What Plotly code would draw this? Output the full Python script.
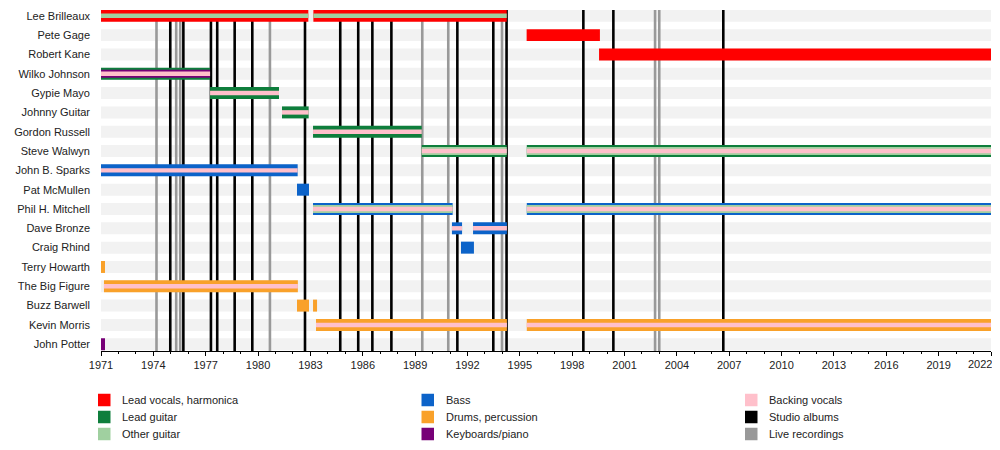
import plotly.graph_objects as go

# band members, top to bottom
members = ["Lee Brilleaux", "Pete Gage", "Robert Kane", "Wilko Johnson", "Gypie Mayo",
           "Johnny Guitar", "Gordon Russell", "Steve Walwyn", "John B. Sparks", "Pat McMullen",
           "Phil H. Mitchell", "Dave Bronze", "Craig Rhind", "Terry Howarth", "The Big Figure",
           "Buzz Barwell", "Kevin Morris", "John Potter"]

# (member, start, end) per role
lead_vocals = [("Lee Brilleaux", 1971.0, 1982.88), ("Lee Brilleaux", 1983.17, 1994.25),
               ("Pete Gage", 1995.39, 1999.59), ("Robert Kane", 1999.54, 2022.0)]
lead_guitar = [("Wilko Johnson", 1971.0, 1977.25), ("Gypie Mayo", 1977.25, 1981.2),
               ("Johnny Guitar", 1981.37, 1982.9), ("Gordon Russell", 1983.15, 1989.38),
               ("Steve Walwyn", 1989.38, 1994.25), ("Steve Walwyn", 1995.4, 2022.0)]
other_guitar_inner = [("Lee Brilleaux", 1971.0, 1982.88), ("Lee Brilleaux", 1983.17, 1994.25)]
other_guitar_mid = [("Steve Walwyn", 1989.38, 1994.25), ("Steve Walwyn", 1995.4, 2022.0),
                    ("Phil H. Mitchell", 1983.15, 1991.15), ("Phil H. Mitchell", 1995.4, 2022.0)]
bass = [("John B. Sparks", 1971.0, 1982.27), ("Pat McMullen", 1982.23, 1982.92),
        ("Phil H. Mitchell", 1983.15, 1991.15), ("Phil H. Mitchell", 1995.4, 2022.0),
        ("Dave Bronze", 1991.11, 1991.69), ("Dave Bronze", 1992.32, 1994.26),
        ("Craig Rhind", 1991.63, 1992.37)]
drums = [("Terry Howarth", 1971.0, 1971.23), ("The Big Figure", 1971.17, 1982.28),
         ("Buzz Barwell", 1982.23, 1982.92), ("Buzz Barwell", 1983.15, 1983.38),
         ("Kevin Morris", 1983.32, 1994.26), ("Kevin Morris", 1995.4, 2022.0)]
keyboards = [("John Potter", 1971.0, 1971.23)]
keyboards_mid = [("Wilko Johnson", 1971.0, 1977.25)]
backing_vocals = [("Wilko Johnson", 1971.0, 1977.25), ("Gypie Mayo", 1977.25, 1981.2),
                  ("Johnny Guitar", 1981.37, 1982.9), ("Gordon Russell", 1983.15, 1989.38),
                  ("Steve Walwyn", 1989.38, 1994.25), ("Steve Walwyn", 1995.4, 2022.0),
                  ("John B. Sparks", 1971.0, 1982.27), ("Phil H. Mitchell", 1983.15, 1991.15),
                  ("Phil H. Mitchell", 1995.4, 2022.0), ("Dave Bronze", 1991.11, 1991.69),
                  ("Dave Bronze", 1992.32, 1994.26), ("The Big Figure", 1971.17, 1982.28),
                  ("Kevin Morris", 1983.32, 1994.26), ("Kevin Morris", 1995.4, 2022.0)]

studio_albums = [1974.97, 1975.72, 1977.30, 1977.66, 1978.66, 1979.67, 1982.69, 1984.71,
                 1985.74, 1986.55, 1987.64, 1991.42, 1993.48, 1994.24, 1998.64, 2000.36, 2006.66]
live_albums = [1974.18, 1975.31, 1975.54, 1980.68, 1989.41, 1990.90, 1993.98, 2002.75, 2002.99]

year_start, year_end = 1971, 2022
tick_years = list(range(1971, 2023, 3))
y_range = [17.35, -0.3]

RED = "#ff0000"
GREEN = "#0e7e3c"
LGREEN = "#a0d0a0"
BLUE = "#0c63c9"
ORANGE = "#f9a12a"
PURPLE = "#770077"
PINK = "#ffc0cb"
GRAY = "#999999"
BLACK = "#000000"

# legend, column by column
legend_items = [("Lead vocals, harmonica", RED), ("Lead guitar", GREEN), ("Other guitar", LGREEN),
                ("Bass", BLUE), ("Drums, percussion", ORANGE), ("Keyboards/piano", PURPLE),
                ("Backing vocals", PINK), ("Studio albums", BLACK), ("Live recordings", GRAY)]

FULL, MID, INNER = 0.62, 0.41, 0.23
FONT = "Liberation Sans, Arial, sans-serif"
# the page body has an 8px margin, so the figure is laid out 8px smaller/shifted
PAGE = 8
W, H = 1000 - PAGE, 450 - PAGE
ML, MR, MT, MB = 101 - PAGE, 9, 10 - PAGE, 99
PW, PH = W - ML - MR, H - MT - MB

fig = go.Figure()


def add_bars(rows, color, width):
    fig.add_trace(go.Bar(
        orientation="h",
        y=[r[0] for r in rows],
        base=[r[1] for r in rows],
        x=[r[2] - r[1] for r in rows],
        width=width,
        marker=dict(color=color, line=dict(width=0)),
        showlegend=False,
        hoverinfo="skip",
    ))


add_bars(lead_vocals, RED, FULL)
add_bars(lead_guitar, GREEN, FULL)
add_bars(bass, BLUE, FULL)
add_bars(drums, ORANGE, FULL)
add_bars(keyboards, PURPLE, FULL)
add_bars(other_guitar_mid, LGREEN, MID)
add_bars(keyboards_mid, PURPLE, MID)
add_bars(other_guitar_inner, LGREEN, INNER)
add_bars(backing_vocals, PINK, INNER)

# background row bands
for i, m in enumerate(members):
    fig.add_shape(type="rect", xref="x", yref="y", x0=year_start, x1=year_end,
                  y0=i - FULL / 2, y1=i + FULL / 2, fillcolor="#f2f2f2",
                  line=dict(width=0), layer="below")

# album release lines
for yr in live_albums:
    fig.add_shape(type="line", xref="x", yref="y", x0=yr, x1=yr, y0=y_range[0], y1=y_range[1],
                  line=dict(color=GRAY, width=2.6), layer="below")
for yr in studio_albums:
    fig.add_shape(type="line", xref="x", yref="y", x0=yr, x1=yr, y0=y_range[0], y1=y_range[1],
                  line=dict(color=BLACK, width=2.6), layer="below")


def paper_x(px):
    return (px - PAGE - ML) / PW


def paper_y(py):
    return (MT + PH - (py - PAGE)) / PH


# legend drawn below the plot, three columns (page pixel positions)
col_x, col_step = 98, 323.5
row_y, row_step = 400, 17
sw = 12.5
for k, (name, col) in enumerate(legend_items):
    c, r = divmod(k, 3)
    px = col_x + c * col_step
    py = row_y + r * row_step
    fig.add_shape(type="rect", xref="paper", yref="paper",
                  x0=paper_x(px), x1=paper_x(px + sw),
                  y0=paper_y(py + sw / 2), y1=paper_y(py - sw / 2),
                  fillcolor=col, line=dict(width=0))
    fig.add_annotation(xref="paper", yref="paper", x=paper_x(px + 22), y=paper_y(py),
                       text=name, showarrow=False, xanchor="left", yanchor="middle",
                       font=dict(size=11, color="#222222"))

# last year label would run off the page edge, so it is right-aligned at the edge
tick_text = [str(y) for y in tick_years]
tick_text[-1] = ""
fig.add_annotation(xref="x", yref="paper", x=year_end, y=paper_y(364), text=str(year_end),
                   showarrow=False, xanchor="right", yanchor="middle", xshift=3,
                   font=dict(size=11, color="#222222"))

fig.update_layout(
    width=W, height=H,
    margin=dict(l=ML, r=MR, t=MT, b=MB, autoexpand=False),
    paper_bgcolor="white", plot_bgcolor="white",
    barmode="overlay",
    font=dict(family=FONT, size=11, color="#222222"),
    showlegend=False,
)
fig.update_xaxes(range=[year_start, year_end], tickvals=tick_years, ticktext=tick_text,
                 ticks="outside", ticklen=4, tickcolor=BLACK, showline=True, linecolor=BLACK,
                 linewidth=1, showgrid=False, zeroline=False,
                 minor=dict(dtick=1, ticks="outside", ticklen=2, tickcolor=BLACK))
fig.update_yaxes(type="category", categoryorder="array", categoryarray=members,
                 range=y_range, showgrid=False, zeroline=False, showline=False,
                 ticks="", ticklabelstandoff=10)

fig.write_html("out.html")
